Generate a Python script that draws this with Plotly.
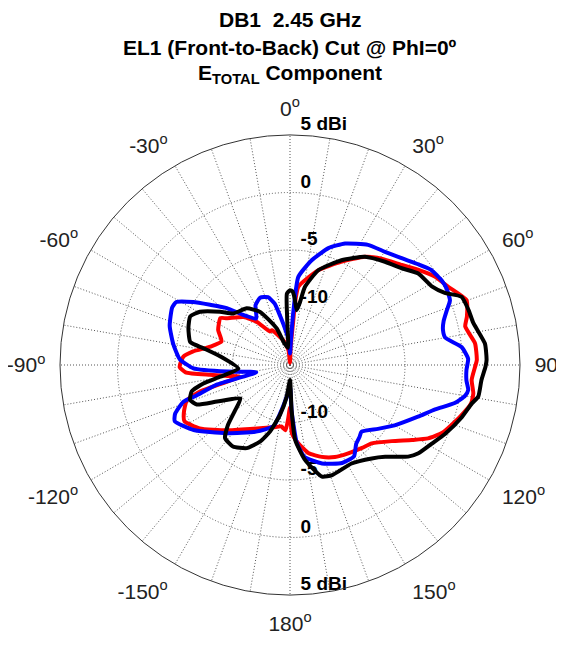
import plotly.graph_objects as go

# ---- data (dBi vs. theta in degrees, 0 = top, clockwise) ----
theta_red = [-180, -178, -176, -172, -165, -150, -136, -125, -118, -114, -109, -106.5, -103, -100,
             -97, -94, -91, -85.5, -82, -77, -71, -64, -56, -53.6, -44, -37.6, -31, -27.6, -15, -6,
             0, 2, 4.2, 4.6, 6.1, 16.6, 26.6, 34.7, 40.7, 48.2, 53.5, 58.6, 63.7, 69.8, 74.7, 77.6,
             83.3, 88.5, 90.5, 94.7, 98.8, 102, 107, 114, 118, 121.6, 126.8, 133.8, 139, 146.6, 154,
             161, 168, 174, 178.5, 180]
r_red = [-11.3, -10.3, -9.3, -9.6, -9.4, -8.6, -7.1, -5.4, -4.6, -4.9, -5.5, -6.8, -10.5, -9.5,
         -8.0, -5.9, -5.4, -5.7, -6.5, -7.9, -8.7, -8.05, -7.7, -8.16, -9.2, -10.25, -11.6, -11.6, -12.8, -13.7,
         -14.8, -13.5, -11.1, -9.6, -8.15, -6.4, -4.95, -3.55, -2.8, -1.95, -1.1, -0.25, 0.35, 1.35, 0.95, 0.6,
         1.2, 1.25, 1.1, 0.85, 1.13, 1.1, 0.45, -0.5, -1.4, -2.55, -3.95, -5.15, -5.45, -5.8, -6.1,
         -6.55, -7.15, -8.15, -9.1, -11.3]

theta_blue = [-180, -174, -170, -165, -153, -137, -124, -116, -113, -109, -108, -105, -102, -96,
              -92, -87, -80, -72, -64, -61, -57, -53, -48, -43, -36, -30, -24, -18, -14, -11, -7, -3,
              0, 2, 3.5, 5.4, 11.7, 18.2, 24.4, 33, 40, 46, 52, 56, 61, 64, 68, 71, 74, 77, 80, 84, 88,
              91.6, 95, 98, 100, 103, 107, 112, 120, 126, 133, 136, 140, 145, 152, 162, 171, 175, 178, 180]
r_blue = [-13.1, -12.2, -11.2, -9.5, -8.5, -6.9, -4.9, -3.85, -4.15, -5.2, -6.5, -8.4, -12.0, -9.5,
          -6.6, -5.4, -4.7, -4.0, -3.6, -3.7, -4.95, -6.3, -7.6, -9.05, -10.0, -9.0, -8.6, -8.8, -9.5, -10.8, -12.0, -12.8,
          -14.0, -13.0, -10.5, -7.3, -5.7, -4.3, -3.4, -2.55, -2.15, -1.6, -0.8, -0.2, 0.1, 0.15, 0.0, -0.6, -1.1, -1.35, -1.3, 0.0, 0.5,
          0.35, 0.4, 0.65, 0.45, -0.3, -1.8, -3.0, -4.5, -5.55, -6.5, -6.3, -6.05, -5.3, -5.35, -6.0, -6.9, -8.2, -11.0, -13.1]

theta_black = [-180, -174, -168.7, -163.3, -158.6, -152.5, -145, -138.4, -134, -130, -124, -116.6, -113,
               -109.3, -105, -102, -99.5, -94, -83, -79, -77, -70, -64, -59.4, -52.7, -47.6, -37.4, -29.4,
               -20, -15, -7, -3.5, -2.5, 0, 2, 4, 7, 9, 10.8, 16.6, 26.2, 34.7, 42.6, 49.1, 54.5, 61, 65,
               68.3, 73, 77, 83.7, 88.5, 90.5, 94.5, 99.5, 102, 107, 114, 119, 124.5, 127.8, 134, 138.8,
               148, 159, 164, 171, 176, 178, 180]
r_black = [-13.7, -12.2, -10.6, -8.95, -7.85, -6.85, -6.35, -6.5, -7.5, -8.7, -9.8, -7.9, -6.2,
           -5.8, -6.15, -7.3, -8.85, -10.5, -8.9, -7.3, -6.1, -5.6, -5.35, -5.9, -7.35, -8.35, -8.8, -9.7,
           -11.6, -13.0, -13.5, -11.0, -8.8, -8.5, -8.6, -9.2, -10.2, -9.5, -8.1, -6.4, -4.85, -3.55, -2.8, -2.15, -1.3, -0.9, -0.15,
           1.05, 1.25, 1.35, 2.05, 2.1, 2.0, 1.7, 1.6, 1.15, 0.6, -0.25, -0.9, -1.45, -2.0, -3.5, -4.2,
           -4.9, -4.75, -4.9, -6.65, -8.45, -11.1, -13.7]

ring_values = [5, 0, -5, -10]
ring_labels = ["5 dBi", "0", "-5", "-10"]

angle_grid = list(range(0, 360, 10))
angle_names = {0: "0", 30: "30", 60: "60", 90: "90", 120: "120", 150: "150", 180: "180",
               210: "-150", 240: "-120", 270: "-90", 300: "-60", 330: "-30"}
angle_text = [(angle_names[a] + "<sup>o</sup>") if a in angle_names else "" for a in angle_grid]

FONT = "Liberation Sans, Arial, sans-serif"
NB = "\u00a0"

fig = go.Figure()

# radial ring labels along the 0/180 axis
fig.add_trace(go.Scatterpolar(
    r=ring_values + ring_values,
    theta=[0] * len(ring_values) + [180] * len(ring_values),
    mode="text",
    text=[NB * 2 + t for t in ring_labels] * 2,
    textposition="top right",
    textfont=dict(family=FONT, size=19, color="black", weight="bold"),
    cliponaxis=False, hoverinfo="skip", showlegend=False,
))

for th, rr, col in [(theta_red, r_red, "#ff0000"),
                    (theta_blue, r_blue, "#0000ff"),
                    (theta_black, r_black, "#000000")]:
    fig.add_trace(go.Scatterpolar(
        r=rr, theta=th, mode="lines",
        line=dict(color=col, width=4, shape="spline", smoothing=0.5),
        showlegend=False, hoverinfo="skip",
    ))

# page body has an 8px margin: the figure is sized and placed to compensate
OFF = 8
W, H = 564 - OFF, 646 - OFF
cx, cy, R = 290 - OFF, 365 - OFF, 230
fig.update_layout(
    width=W, height=H,
    margin=dict(l=0, r=0, t=0, b=0),
    paper_bgcolor="white",
    font=dict(family=FONT, color="black"),
    polar=dict(
        domain=dict(x=[(cx - R) / W, (cx + R) / W], y=[1 - (cy + R) / H, 1 - (cy - R) / H]),
        bgcolor="white",
        radialaxis=dict(range=[-15, 5], tickvals=[-10, -5, 0], showticklabels=False,
                        showline=False, ticks="", gridcolor="#555555", griddash="1px,2px", gridwidth=1),
        angularaxis=dict(rotation=90, direction="clockwise", tickmode="array",
                         tickvals=angle_grid, ticktext=angle_text,
                         ticks="outside", ticklen=10, tickcolor="rgba(0,0,0,0)",
                         tickfont=dict(family=FONT, size=21, color="#222222"),
                         showline=True, linecolor="#333333", linewidth=1,
                         gridcolor="#555555", griddash="1px,2px", gridwidth=1),
    ),
    annotations=[
        dict(text="<b>DB1" + NB + " 2.45 GHz</b>", x=cx / W, y=1 - 11 / H, xref="paper", yref="paper",
             showarrow=False, xanchor="center", yanchor="middle", font=dict(size=21)),
        dict(text="<b>EL1 (Front-to-Back) Cut @ PhI=0º</b>", x=cx / W, y=1 - 39 / H,
             xref="paper", yref="paper", showarrow=False, xanchor="center", yanchor="middle",
             font=dict(size=21)),
        dict(text="<b>E<sub>TOTAL</sub> Component</b>", x=cx / W, y=1 - 66 / H,
             xref="paper", yref="paper", showarrow=False, xanchor="center", yanchor="middle",
             font=dict(size=21)),
    ],
)

fig.write_html("out.html")
